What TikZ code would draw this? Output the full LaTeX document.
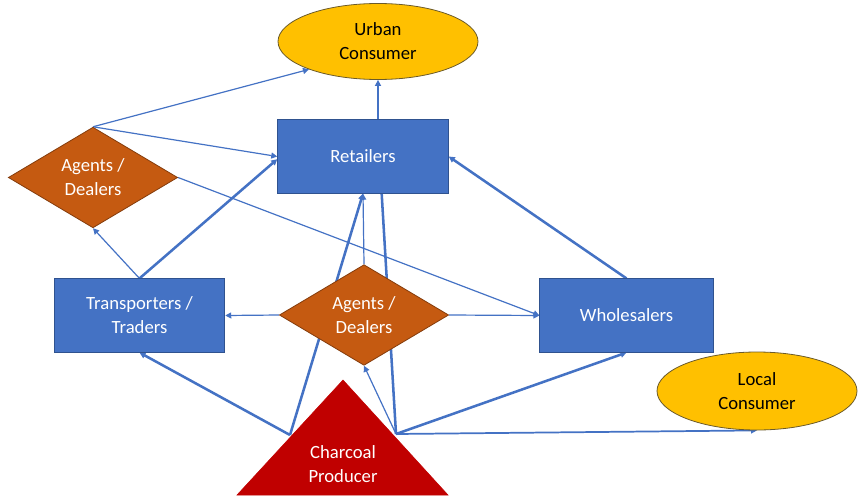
\documentclass[tikz,border=0pt]{standalone}
\usepackage{fontspec}
\setmainfont{Carlito}
\usetikzlibrary{shapes.geometric,arrows.meta,backgrounds}
\definecolor{boxblue}{HTML}{4472C4}
\definecolor{boxedge}{HTML}{2F528F}
\definecolor{agentorange}{HTML}{C55A11}
\definecolor{agentedge}{HTML}{843C0C}
\definecolor{consyellow}{HTML}{FFC000}
\definecolor{consedge}{HTML}{6B5A2A}
\definecolor{prodred}{HTML}{C00000}
\begin{document}
\begin{tikzpicture}[x=0.75pt,y=-0.75pt,
  font=\fontsize{14}{18}\selectfont,
  actor/.style={rectangle,fill=boxblue,draw=boxedge,line width=0.6pt,text=white,
    minimum width=128pt,minimum height=55pt,align=center},
  agent/.style={diamond,aspect=1.68,fill=agentorange,draw=agentedge,line width=0.6pt,
    text=white,minimum width=127pt,minimum height=75.5pt,inner sep=0pt,align=center},
  consumer/.style={ellipse,fill=consyellow,draw=consedge,line width=0.6pt,text=black,
    minimum width=150pt,minimum height=57pt,inner sep=0pt,align=center},
  thin flow/.style={draw=boxblue,line width=0.9pt,-{Triangle[length=4.5pt,width=4.5pt]}},
  thick flow/.style={draw=boxblue,line width=1.9pt,-{Triangle[length=4.5pt,width=4.5pt]}}]
\useasboundingbox (0,0) rectangle (859,496);
\node[consumer] (urban) at (378,41.5) {Urban\\Consumer};
\node[consumer,minimum height=58.5pt] (local) at (757,391) {Local\\Consumer};
\node[actor] (retail) at (363,156.5) {Retailers};
\node[actor] (trans) at (139.5,315.5) {Transporters /\\Traders};
\node[actor,minimum width=130pt] (whole) at (626.5,315.5) {Wholesalers};
\node[agent] (agentA) at (93,177.5) {Agents /\\Dealers};
\node[agent] (agentB) at (364,315) {Agents /\\Dealers};
\filldraw[fill=prodred,draw=prodred] (343,380) -- (448,495) -- (237,495) -- cycle;
\node[text=white,align=center] (prod) at (343,464) {Charcoal\\Producer};
\coordinate (pl) at (290,435);
\coordinate (pr) at (396,434);
\begin{pgfonlayer}{background}
\draw[thin flow] (agentA.north) -- (urban.202);
\draw[thin flow] (agentA.north) -- (retail.west);
\draw[thin flow] (agentA.east) -- (whole.west);
\draw[thin flow] (trans.north) -- (agentA.south);
\draw[thick flow] (trans.north) -- ([yshift=-2pt]retail.west);
\draw[thick flow] (retail.north -| urban.south) -- (urban.south);
\draw[thick flow] (whole.north) -- (retail.east);
\draw[thin flow] (agentB.west) -- (trans.east);
\draw[thin flow] (agentB.east) -- (whole.west);
\draw[thin flow] (agentB.north) -- (retail.south);
\draw[thick flow] (pl) -- (trans.south);
\draw[thick flow] (pl) -- (retail.south);
\draw[thin flow] (pr) -- (agentB.south);
\draw[draw=boxblue,line width=1.9pt] (pr) -- ([xshift=14pt]retail.south);
\draw[thick flow] (pr) -- (whole.south);
\draw[thin flow,line width=1.3pt] (pr) -- (local.south);
\end{pgfonlayer}
\end{tikzpicture}
\end{document}
